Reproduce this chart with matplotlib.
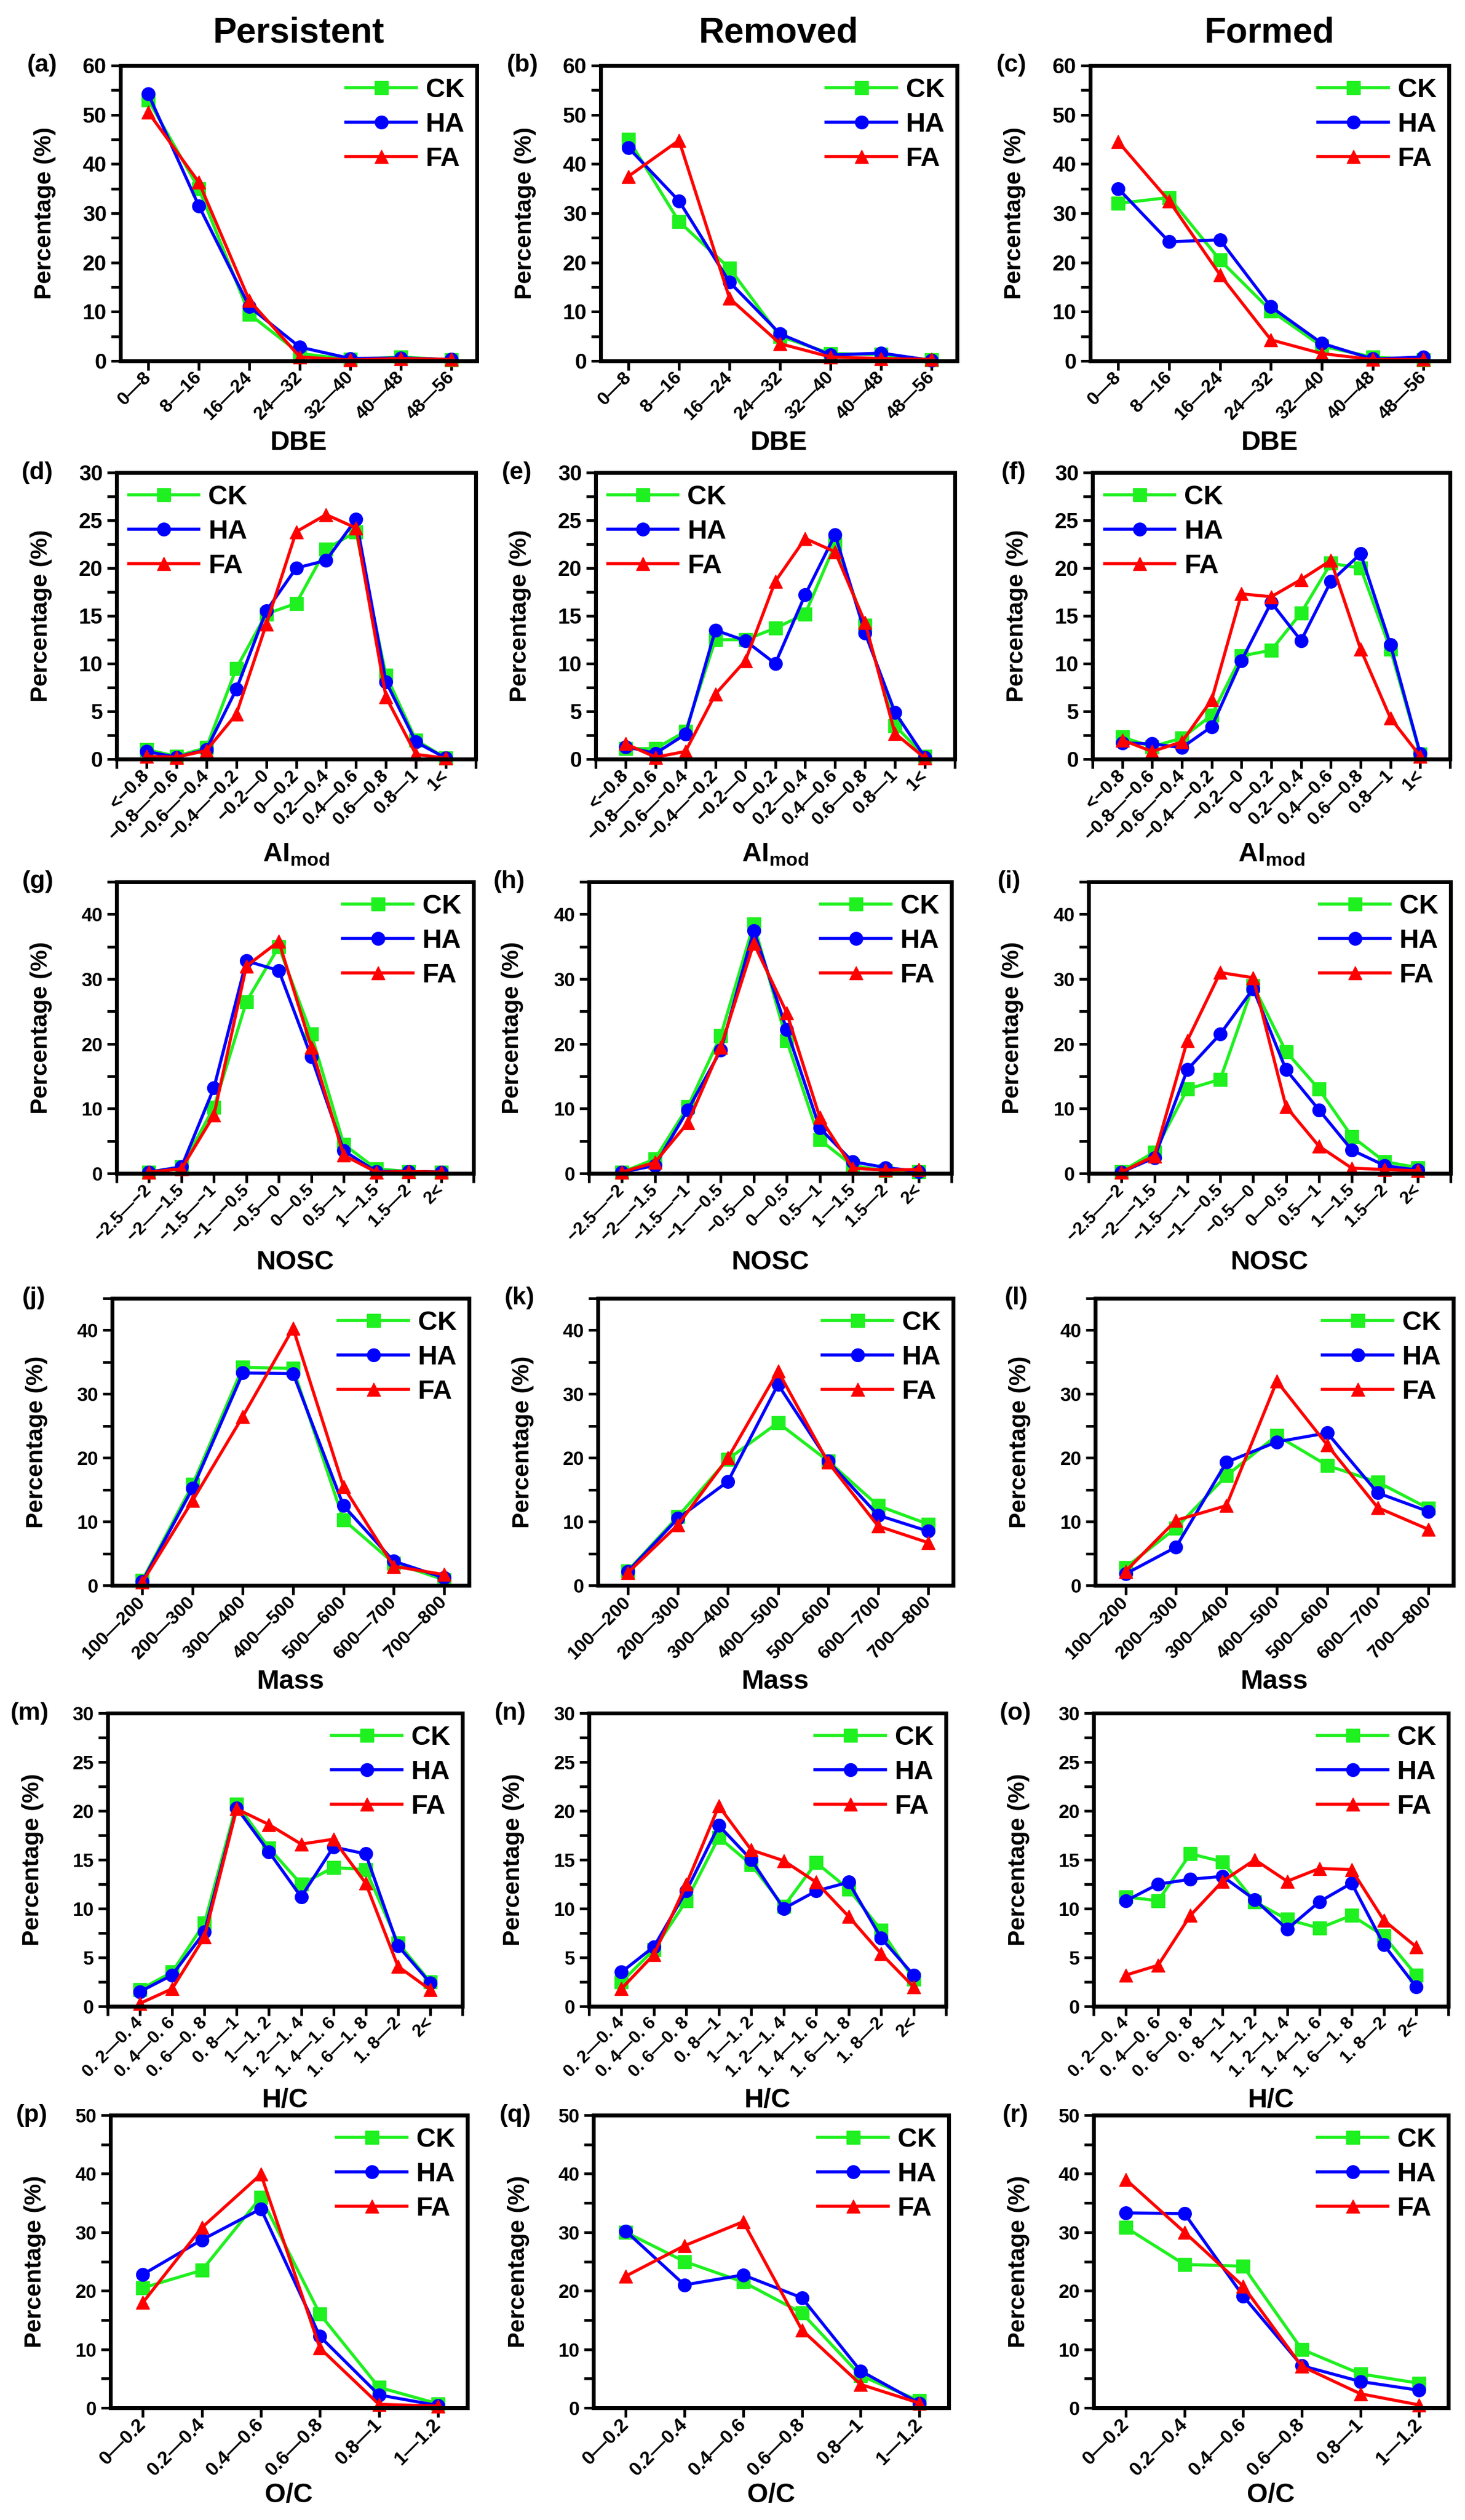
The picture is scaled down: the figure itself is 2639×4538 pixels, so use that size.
import matplotlib
matplotlib.use('Agg')
import matplotlib.pyplot as plt
from matplotlib import font_manager
from matplotlib.ticker import MultipleLocator
import numpy as np

names = {f.name for f in font_manager.fontManager.ttflist}
NARROW = 'Liberation Sans Narrow' if 'Liberation Sans Narrow' in names else 'Liberation Sans'
WIDE = 'Liberation Sans'
plt.rcParams['font.family'] = [WIDE, 'DejaVu Sans']
plt.rcParams['font.weight'] = 'bold'

# ---- categories ----
dbe_cats = ['0—8', '8—16', '16—24', '24—32', '32—40', '40—48', '48—56']
ai_cats = ['<−0.8', '−0.8—−0.6', '−0.6—−0.4', '−0.4—−0.2', '−0.2—0', '0—0.2',
           '0.2—0.4', '0.4—0.6', '0.6—0.8', '0.8—1', '1<']
nosc_cats = ['−2.5—−2', '−2—−1.5', '−1.5—−1', '−1—−0.5', '−0.5—0', '0—0.5',
             '0.5—1', '1—1.5', '1.5—2', '2<']
mass_cats = ['100—200', '200—300', '300—400', '400—500', '500—600', '600—700', '700—800']
hc_cats = ['0. 2—0. 4', '0. 4—0. 6', '0. 6—0. 8', '0. 8—1', '1—1. 2', '1. 2—1. 4',
           '1. 4—1. 6', '1. 6—1. 8', '1. 8—2', '2<']
oc_cats = ['0—0.2', '0.2—0.4', '0.4—0.6', '0.6—0.8', '0.8—1', '1—1.2']

# ---- DBE ----
a_ck = [53.0, 35.0, 9.5, 1.5, 0.3, 0.8, 0.2]
a_ha = [54.2, 31.5, 11.0, 2.8, 0.5, 0.6, 0.3]
a_fa = [50.5, 36.3, 12.3, 0.8, 0.2, 0.5, 0.3]
b_ck = [45.0, 28.3, 18.8, 5.0, 1.5, 1.3, 0.2]
b_ha = [43.3, 32.5, 16.0, 5.5, 1.2, 1.6, 0.1]
b_fa = [37.5, 44.8, 12.7, 3.5, 0.8, 0.5, 0.3]
c_ck = [32.0, 33.2, 20.5, 10.2, 3.0, 0.8, 0.2]
c_ha = [35.0, 24.2, 24.6, 11.0, 3.6, 0.4, 0.8]
c_fa = [44.5, 32.5, 17.5, 4.3, 1.5, 0.3, 0.3]

# ---- AImod ----
d_ck = [1.0, 0.3, 1.2, 9.5, 15.2, 16.3, 22.0, 23.8, 8.8, 2.0, 0.1]
d_ha = [0.8, 0.2, 1.0, 7.3, 15.5, 20.0, 20.8, 25.1, 8.1, 1.8, 0.1]
d_fa = [0.3, 0.2, 0.9, 4.7, 14.1, 23.8, 25.6, 24.2, 6.5, 0.5, 0.1]
e_ck = [1.1, 1.1, 2.9, 12.5, 12.5, 13.7, 15.2, 22.5, 14.0, 3.5, 0.3]
e_ha = [1.3, 0.6, 2.6, 13.5, 12.4, 10.0, 17.2, 23.5, 13.2, 4.9, 0.2]
e_fa = [1.6, 0.2, 0.8, 6.8, 10.3, 18.6, 23.1, 21.7, 14.3, 2.7, 0.1]
f_ck = [2.3, 1.3, 2.2, 4.6, 10.8, 11.4, 15.3, 20.5, 20.0, 11.5, 0.5]
f_ha = [1.7, 1.6, 1.2, 3.4, 10.3, 16.4, 12.4, 18.6, 21.5, 12.0, 0.6]
f_fa = [2.0, 0.8, 1.8, 6.2, 17.3, 17.0, 18.8, 20.8, 11.5, 4.3, 0.3]

# ---- NOSC ----
g_ck = [0.2, 1.0, 10.2, 26.5, 35.0, 21.5, 4.5, 0.7, 0.3, 0.2]
g_ha = [0.2, 1.0, 13.2, 32.8, 31.3, 18.0, 3.5, 0.3, 0.3, 0.2]
g_fa = [0.2, 0.7, 9.0, 32.0, 35.8, 19.5, 2.8, 0.2, 0.3, 0.2]
h_ck = [0.2, 2.2, 10.3, 21.3, 38.5, 20.5, 5.2, 1.2, 0.4, 0.3]
h_ha = [0.2, 1.2, 9.8, 19.0, 37.5, 22.2, 7.0, 1.8, 0.9, 0.3]
h_fa = [0.2, 1.7, 7.8, 19.5, 35.5, 24.8, 8.7, 0.8, 0.5, 0.6]
i_ck = [0.3, 3.3, 13.0, 14.5, 29.0, 18.8, 13.0, 5.7, 1.8, 0.9]
i_ha = [0.2, 2.4, 16.0, 21.5, 28.5, 16.0, 9.8, 3.6, 1.2, 0.5]
i_fa = [0.2, 2.7, 20.5, 31.0, 30.2, 10.3, 4.2, 0.8, 0.6, 0.4]

# ---- Mass ----
j_ck = [0.8, 15.8, 34.2, 34.0, 10.3, 3.5, 0.9]
j_ha = [0.6, 15.2, 33.3, 33.2, 12.5, 3.8, 1.2]
j_fa = [0.5, 13.3, 26.5, 40.3, 15.5, 3.0, 1.7]
k_ck = [2.3, 10.8, 19.8, 25.5, 19.5, 12.5, 9.6]
k_ha = [2.2, 10.5, 16.3, 31.5, 19.5, 11.0, 8.5]
k_fa = [2.0, 9.5, 20.0, 33.6, 19.3, 9.3, 6.7]
l_ck = [2.8, 9.0, 17.2, 23.5, 18.8, 16.2, 12.1]
l_ha = [1.8, 6.0, 19.3, 22.5, 23.9, 14.5, 11.6]
l_fa = [2.2, 10.2, 12.5, 32.0, 22.0, 12.2, 8.8]

# ---- H/C ----
m_ck = [1.7, 3.5, 8.5, 20.7, 16.2, 12.5, 14.2, 14.0, 6.5, 2.5]
m_ha = [1.5, 3.2, 7.6, 20.3, 15.8, 11.2, 16.3, 15.6, 6.2, 2.4]
m_fa = [0.3, 1.8, 7.1, 20.2, 18.6, 16.6, 17.1, 12.6, 4.1, 1.7]
n_ck = [2.5, 5.8, 10.8, 17.3, 14.5, 10.2, 14.7, 12.0, 7.8, 2.8]
n_ha = [3.5, 6.1, 11.8, 18.5, 15.0, 10.0, 11.8, 12.7, 7.0, 3.2]
n_fa = [1.8, 5.3, 12.5, 20.5, 16.0, 14.9, 12.7, 9.2, 5.4, 2.0]
o_ck = [11.2, 10.8, 15.6, 14.8, 10.7, 8.9, 8.0, 9.3, 7.2, 3.2]
o_ha = [10.8, 12.5, 13.0, 13.3, 10.9, 7.9, 10.7, 12.6, 6.3, 2.0]
o_fa = [3.2, 4.2, 9.3, 12.8, 15.0, 12.8, 14.1, 14.0, 8.8, 6.1]

# ---- O/C ----
p_ck = [20.5, 23.5, 36.0, 16.0, 3.5, 0.7]
p_ha = [22.8, 28.7, 34.0, 12.2, 2.2, 0.4]
p_fa = [18.0, 30.8, 39.9, 10.2, 0.6, 0.3]
q_ck = [30.0, 25.0, 21.5, 16.2, 5.5, 1.2]
q_ha = [30.2, 21.0, 22.7, 18.8, 6.3, 0.8]
q_fa = [22.5, 27.7, 31.8, 13.3, 4.0, 0.8]
r_ck = [30.8, 24.5, 24.2, 10.0, 5.8, 4.2]
r_ha = [33.3, 33.2, 19.1, 7.2, 4.5, 3.0]
r_fa = [39.0, 30.0, 20.8, 7.1, 2.4, 0.5]

col_titles = ['Persistent', 'Removed', 'Formed']

GREEN = '#1ff01f'
BLUE = '#0000ff'
RED = '#ff0000'

W, H = 2639, 4538
fig = plt.figure(figsize=(W / 100, H / 100), dpi=100)

# row layout in pixels: (top, bottom, [(left, right) per column])
rows = [
    (118, 650, [(217, 859), (1082, 1724), (1964, 2610)]),
    (851, 1367, [(210, 857), (1073, 1720), (1968, 2612)]),
    (1588, 2113, [(210, 853), (1061, 1714), (1961, 2613)]),
    (2338, 2855, [(202, 845), (1077, 1717), (1973, 2618)]),
    (3085, 3613, [(194, 833), (1061, 1704), (1970, 2609)]),
    (3809, 4336, [(199, 842), (1069, 1709), (1970, 2609)]),
]

# per row: cats, ymax, major, minor, xlim, end ticks, xlabel, legend loc, xlabel offset px, tick sizes
row_cfg = [
    (dbe_cats, 60, 10, 5, (-0.55, 6.5), False, 'DBE', 'upper right', 125, 28, 24),
    (ai_cats, 30, 5, 2.5, (-1, 11), True, r'AI$_{\mathregular{mod}}$', 'upper left', 150, 28, 24),
    (nosc_cats, 45, 10, 5, (-1, 10), True, 'NOSC', 'upper right', 138, 25, 23),
    (mass_cats, 45, 10, 5, (-0.6, 6.5), False, 'Mass', 'upper right', 151, 25, 24),
    (hc_cats, 30, 5, 2.5, (-1, 10), True, 'H/C', 'upper right', 147, 25, 23),
    (oc_cats, 50, 10, 5, (-0.55, 5.5), False, 'O/C', 'upper right', 135, 25, 25),
]

series = [
    [(a_ck, a_ha, a_fa), (b_ck, b_ha, b_fa), (c_ck, c_ha, c_fa)],
    [(d_ck, d_ha, d_fa), (e_ck, e_ha, e_fa), (f_ck, f_ha, f_fa)],
    [(g_ck, g_ha, g_fa), (h_ck, h_ha, h_fa), (i_ck, i_ha, i_fa)],
    [(j_ck, j_ha, j_fa), (k_ck, k_ha, k_fa), (l_ck, l_ha, l_fa)],
    [(m_ck, m_ha, m_fa), (n_ck, n_ha, n_fa), (o_ck, o_ha, o_fa)],
    [(p_ck, p_ha, p_fa), (q_ck, q_ha, q_fa), (r_ck, r_ha, r_fa)],
]
letters = 'abcdefghijklmnopqr'

for ri, (top, bot, cols) in enumerate(rows):
    cats, ymax, major, minor, xlim, ends, xlab, loc, xoff, ysz, xsz = row_cfg[ri]
    for ci, (left, right) in enumerate(cols):
        ax = fig.add_axes([left / W, 1 - bot / H, (right - left) / W, (bot - top) / H])
        ck, ha, fa = series[ri][ci]
        x = np.arange(len(cats))
        for vals, col, mk, lab in [(ck, GREEN, 's', 'CK'), (ha, BLUE, 'o', 'HA'), (fa, RED, '^', 'FA')]:
            ax.plot(x, vals, color=col, marker=mk, lw=4, ms=17, label=lab, clip_on=False)

        ax.set_ylim(0, ymax)
        ax.set_xlim(*xlim)
        ax.yaxis.set_major_locator(MultipleLocator(major))
        ax.yaxis.set_minor_locator(MultipleLocator(minor))
        if ends:
            ax.set_xticks(np.arange(-1, len(cats) + 1))
            ax.set_xticklabels([''] + cats + [''], rotation=45, ha='right', va='center',
                               rotation_mode='anchor', fontfamily=NARROW, fontsize=xsz)
        else:
            ax.set_xticks(x)
            ax.set_xticklabels(cats, rotation=45, ha='right', va='center',
                               rotation_mode='anchor', fontfamily=NARROW, fontsize=xsz)
        for t in ax.get_yticklabels():
            t.set_fontfamily(NARROW)
            t.set_fontsize(ysz)

        for sp in ax.spines.values():
            sp.set_linewidth(5)
        ax.tick_params(which='both', direction='out', length=12, width=3.5,
                       top=False, right=False, pad=6)

        ax.set_ylabel('Percentage (%)', fontsize=31, fontweight='bold')
        ax.yaxis.set_label_coords(-0.18, 0.5)
        ax.set_xlabel(xlab, fontsize=35, fontweight='bold', fontfamily=WIDE)
        ax.xaxis.set_label_coords(0.5, -xoff / (bot - top))

        ax.text(-0.22, 1.0, '(%s)' % letters[ri * 3 + ci], transform=ax.transAxes,
                ha='center', va='center', fontsize=32, fontfamily=NARROW, fontweight='bold')

        leg = ax.legend(loc=loc, frameon=False, handlelength=2.6, handletextpad=0.35,
                        borderaxespad=0.25, borderpad=0.2, labelspacing=0.35,
                        prop={'family': NARROW, 'weight': 'bold', 'size': 35})

        if ri == 0:
            ax.set_title(col_titles[ci], fontsize=46, fontweight='bold',
                         fontfamily=NARROW, pad=30)

fig.savefig('out.png', dpi=100)
